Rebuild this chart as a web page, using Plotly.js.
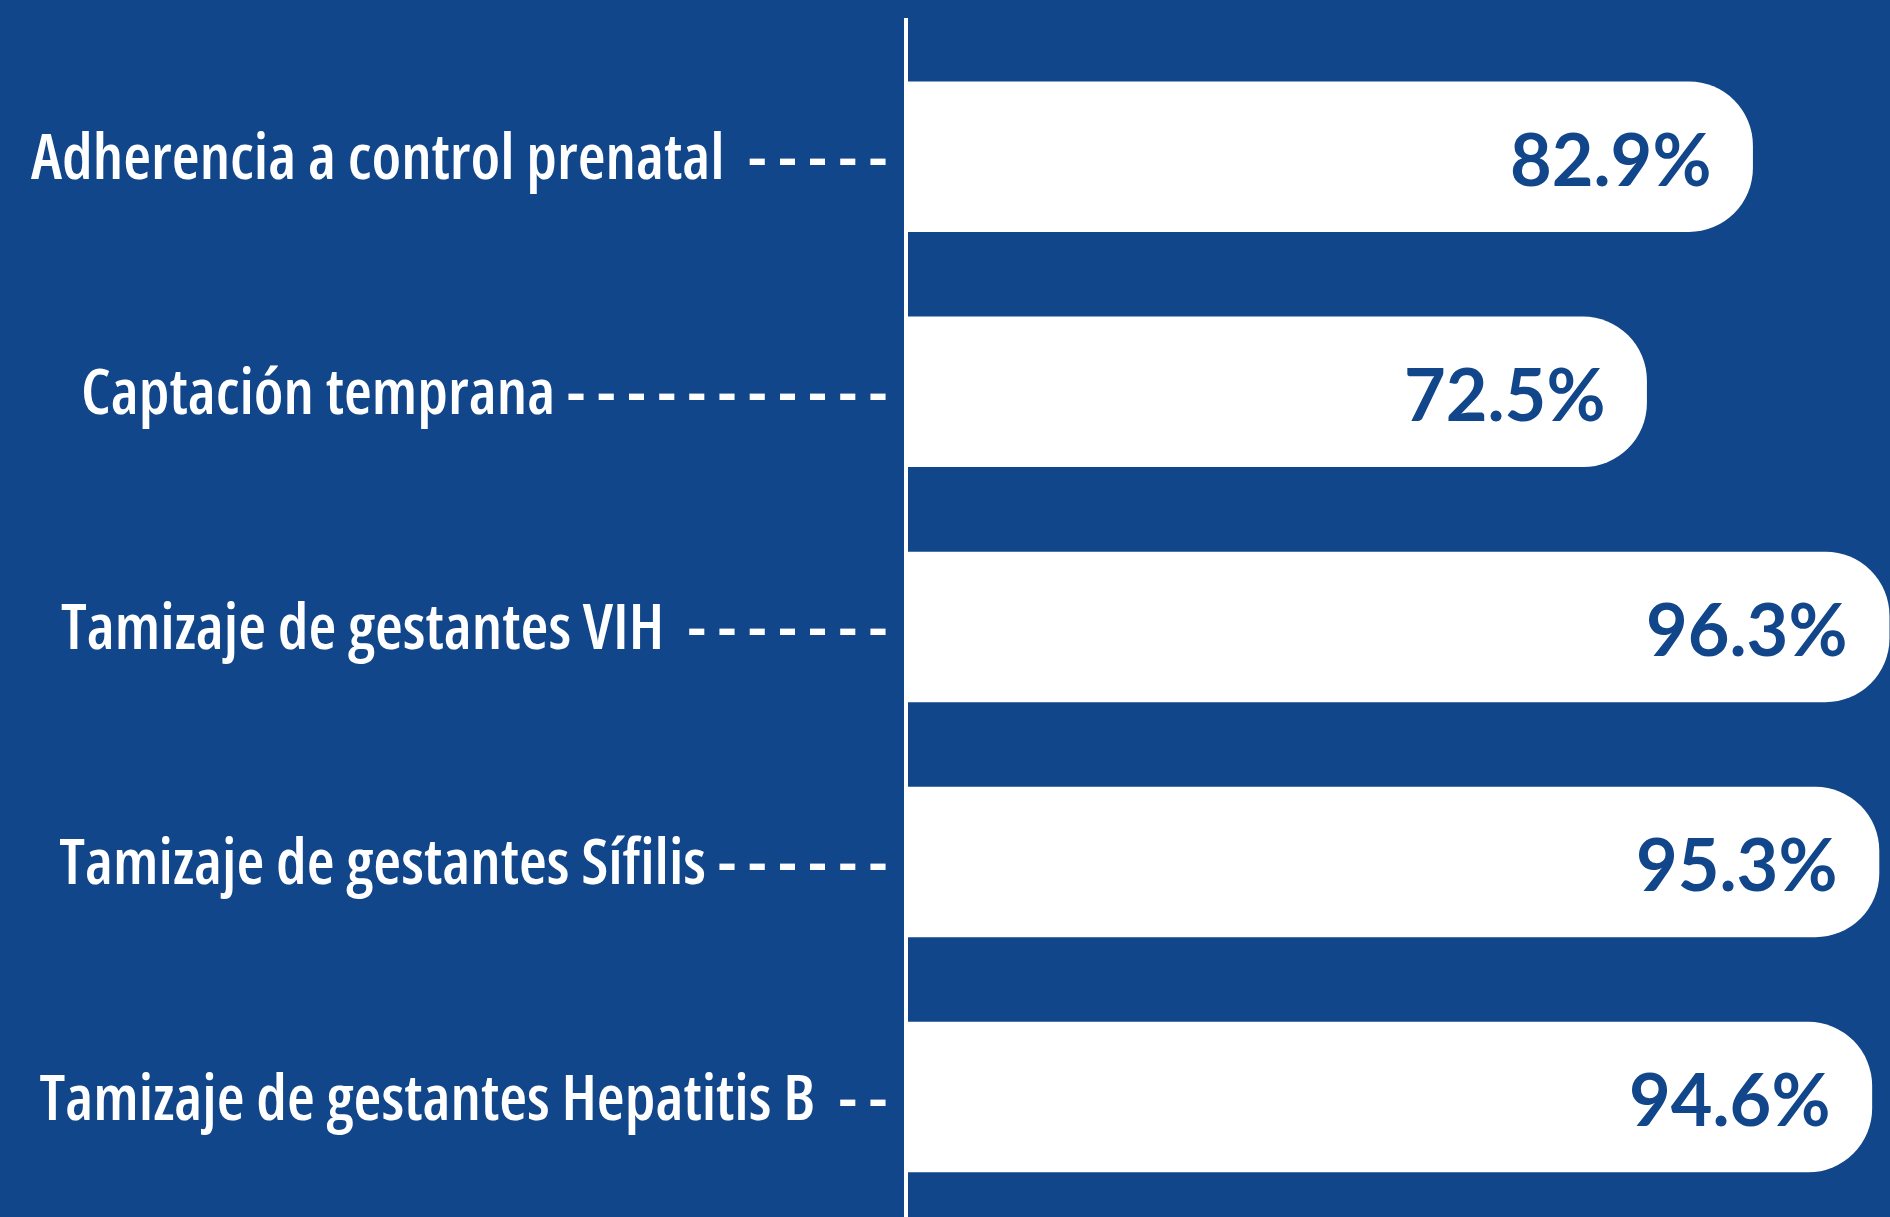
<!DOCTYPE html>
<html>
<head>
<meta charset="utf-8">
<script src="https://cdn.plot.ly/plotly-3.0.1.min.js"></script>
<style>
  html, body { margin: 0; padding: 0; background: #12468a; }
  #chart { width: 1890px; height: 1217px; }
  #probe { position: absolute; left: 0; top: 0; visibility: hidden; white-space: pre; font-size: 100px; }
</style>
</head>
<body>
<div id="chart"></div>
<span id="probe"></span>
<script>
// ---- data ----
const categories = [
  "Adherencia a control prenatal",
  "Captación temprana",
  "Tamizaje de gestantes VIH",
  "Tamizaje de gestantes Sífilis",
  "Tamizaje de gestantes Hepatitis B"
];
const values = [82.9, 72.5, 96.3, 95.3, 94.6];
const tickLabels = [
  "Adherencia a control prenatal  - - - - -",
  "Captación temprana - - - - - - - - - - -",
  "Tamizaje de gestantes VIH  - - - - - - -",
  "Tamizaje de gestantes Sífilis - - - - - -",
  "Tamizaje de gestantes Hepatitis B  - -"
];
const valueLabels = values.map(v => v.toFixed(1) + "%");

const BLUE = "#12468a";

// ---- pick a condensed font that is actually available ----
const probe = document.getElementById("probe");
function measure(family, stretch, text) {
  probe.style.fontFamily = family;
  probe.style.fontStretch = stretch;
  probe.textContent = text;
  return probe.getBoundingClientRect().width;
}
const sample = categories[0];
function installed(family) {
  return Math.abs(measure(family + ", monospace", "normal", sample) - measure("monospace", "normal", sample)) > 1;
}
const candidates = [
  { family: "'Noto Sans ExtraCondensed'", stretch: "normal", named: true },
  { family: "'Noto Sans Condensed'", stretch: "normal", named: true },
  { family: "'Noto Sans'", stretch: "extra-condensed" },
  { family: "'Noto Sans'", stretch: "condensed" },
  { family: "'Open Sans'", stretch: "condensed" }
];
let chosen = { family: "'DejaVu Sans Condensed'", stretch: "normal" };
for (const c of candidates) {
  if (c.named) {
    if (installed(c.family)) { chosen = c; break; }
  } else {
    const wN = measure(c.family, "normal", sample);
    const wC = measure(c.family, c.stretch, sample);
    if (wC < wN * 0.92) { chosen = c; break; }
  }
}
probe.remove();

const available = 858;   // width of the left panel for a label and its leader
const startSize = 60;

const bars = {
  type: "bar",
  orientation: "h",
  x: values,
  y: categories,
  marker: { color: "#ffffff", cornerradius: "43%", line: { width: 0 } },
  hoverinfo: "skip"
};

// value labels, anchored at each bar's end through the axis scale
const annotations = values.map((v, i) => ({
  x: v,
  y: categories[i],
  xref: "x",
  yref: "y",
  text: valueLabels[i],
  showarrow: false,
  xanchor: "right",
  yanchor: "middle",
  xshift: -40,
  yshift: -1,
  font: { family: "Lato, 'Open Sans', sans-serif", size: 72, weight: 700, color: BLUE }
}));

const layout = {
  width: 1890,
  height: 1217,
  margin: { l: 908, r: 0, t: 18, b: 0, pad: 0 },
  paper_bgcolor: BLUE,
  plot_bgcolor: BLUE,
  bargap: 0.36,
  showlegend: false,
  xaxis: {
    range: [0, 96.35],
    showgrid: false,
    zeroline: false,
    showticklabels: false,
    showline: false,
    ticks: ""
  },
  yaxis: {
    type: "category",
    range: [4.51, -0.59],
    tickmode: "array",
    tickvals: categories,
    ticktext: tickLabels,
    showgrid: false,
    zeroline: false,
    showline: true,
    linecolor: "#ffffff",
    linewidth: 4,
    ticks: "",
    ticklabelstandoff: 4,
    tickfont: { family: chosen.family + ", 'DejaVu Sans Condensed', sans-serif", weight: 600, size: startSize, color: "#ffffff" }
  },
  annotations: annotations
};

function applyStretch() {
  if (chosen.stretch !== "normal") {
    document.querySelectorAll("#chart .ytick text").forEach(el => { el.style.fontStretch = chosen.stretch; });
  }
}

Plotly.newPlot("chart", [bars], layout, { displayModeBar: false, staticPlot: true }).then(gd => {
  applyStretch();
  let maxW = 0;
  document.querySelectorAll("#chart .ytick text").forEach(el => { maxW = Math.max(maxW, el.getBBox().width); });
  if (maxW > 0) {
    const size = Math.min(88, Math.floor(startSize * available / maxW));
    return Plotly.relayout(gd, { "yaxis.tickfont.size": size }).then(applyStretch);
  }
});
</script>
</body>
</html>
